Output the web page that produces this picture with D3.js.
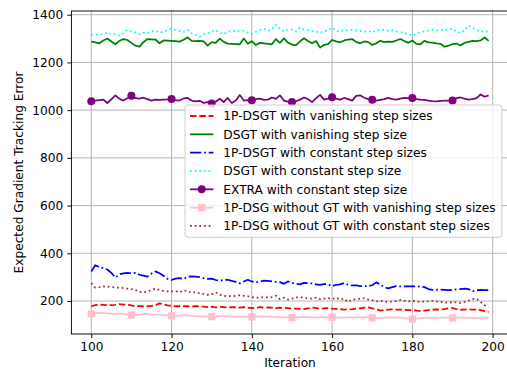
<!DOCTYPE html>
<html><head><meta charset="utf-8">
<script src="https://cdn.jsdelivr.net/npm/d3@7"></script>
<style>body{margin:0;background:#fff}svg{display:block}text{font-family:"DejaVu Sans",sans-serif}</style>
</head><body><div id="chart"></div>
<script>
const iterations = d3.range(100, 200);
const xTicks = [100, 120, 140, 160, 180, 200];
const yTicks = [200, 400, 600, 800, 1000, 1200, 1400];

const dsgt1pVanishing = [178,183,185,184,182,183,184,187,185,184,182,178,179,178,178,180,182,190,186,182,180,178,178,179,178,177,178,178,176,174,176,173,175,174,173,174,173,172,174,172,170,172,174,172,173,172,170,172,171,170,168,168,167,166,169,172,170,168,169,170,168,167,166,164,165,166,168,169,172,173,169,166,160,162,164,165,164,164,163,162,162,160,159,160,162,164,165,164,166,169,170,166,164,164,165,164,164,162,158,153];
const dsgtVanishing = [1287,1284,1280,1292,1300,1288,1276,1290,1298,1294,1282,1270,1266,1285,1298,1297,1296,1280,1292,1291,1290,1289,1287,1295,1305,1290,1289,1290,1288,1270,1285,1282,1300,1286,1279,1278,1277,1276,1300,1278,1289,1273,1282,1280,1278,1276,1298,1282,1301,1283,1275,1272,1288,1301,1290,1280,1290,1262,1274,1277,1294,1288,1284,1292,1296,1298,1286,1280,1288,1285,1273,1280,1291,1285,1287,1286,1292,1298,1290,1282,1292,1278,1276,1290,1284,1283,1280,1278,1266,1270,1277,1279,1271,1282,1286,1290,1289,1292,1305,1290];
const dsgt1pConstant = [324,350,342,338,332,318,298,312,316,318,316,318,310,306,302,315,324,316,306,293,288,294,296,292,302,303,302,300,296,293,294,288,285,288,289,284,280,274,282,289,282,278,282,285,284,282,280,279,272,282,276,272,270,276,275,274,270,268,271,270,262,268,270,275,268,265,266,262,262,262,266,278,270,258,253,258,262,261,261,261,261,262,260,258,250,247,247,248,247,246,247,249,250,252,250,240,245,247,246,245];
const dsgtConstant = [1316,1318,1315,1320,1325,1317,1320,1312,1322,1336,1330,1326,1318,1324,1322,1330,1332,1325,1328,1335,1341,1336,1332,1328,1336,1322,1316,1308,1318,1322,1330,1336,1325,1318,1330,1331,1332,1330,1333,1325,1320,1328,1336,1341,1332,1338,1358,1342,1330,1336,1338,1330,1346,1338,1335,1332,1330,1324,1330,1335,1346,1332,1330,1336,1333,1336,1334,1332,1328,1332,1326,1333,1336,1335,1332,1334,1330,1327,1322,1320,1312,1320,1326,1330,1334,1336,1333,1335,1336,1338,1341,1330,1322,1336,1355,1346,1335,1332,1328,1330];
const extraConstant = [1037,1040,1042,1044,1030,1045,1062,1048,1040,1050,1060,1050,1048,1052,1046,1040,1044,1043,1044,1045,1047,1042,1040,1049,1051,1040,1037,1039,1030,1034,1028,1035,1048,1034,1051,1030,1040,1063,1040,1042,1041,1046,1048,1043,1044,1053,1047,1062,1040,1036,1034,1037,1044,1053,1046,1034,1050,1064,1044,1048,1054,1048,1044,1051,1046,1040,1060,1062,1052,1046,1044,1040,1043,1046,1051,1046,1044,1048,1051,1050,1051,1046,1044,1043,1040,1038,1037,1039,1040,1040,1040,1050,1053,1048,1044,1046,1050,1066,1056,1062];
const dsgNoGtVanishing = [146,148,150,149,148,147,146,148,146,143,141,142,143,145,146,143,144,142,143,140,138,137,139,141,140,138,137,136,136,135,134,135,137,137,136,135,134,136,134,134,133,134,135,135,136,134,133,132,131,131,130,131,132,133,132,131,131,132,131,133,132,131,130,130,131,132,131,131,132,131,129,128,128,129,130,131,130,130,128,126,124,126,128,129,130,129,129,130,131,130,129,130,131,130,129,128,129,129,128,130];
const dsgNoGtConstant = [275,256,258,261,260,258,257,256,254,252,250,246,238,236,240,246,252,246,242,240,240,242,236,244,242,234,238,232,230,226,228,236,226,222,220,220,222,224,222,220,216,214,215,216,215,216,222,208,214,206,210,215,216,214,212,210,214,208,210,212,208,214,206,210,196,205,208,210,212,206,204,198,201,198,196,198,200,204,201,198,201,198,196,198,199,201,198,196,194,192,196,194,192,196,201,208,210,196,182,176];

const seriesLabels = ["1P-DSGT with vanishing step sizes","DSGT with vanishing step size","1P-DSGT with constant step sizes","DSGT with constant step size","EXTRA with constant step size","1P-DSG without GT with vanishing step sizes","1P-DSG without GT with constant step sizes"];

(function () {
const W = 507, H = 370;
const lw = 1.76;
const fs = "12.2px";
const series = [
  {label: seriesLabels[0], values: dsgt1pVanishing, color: "#ff0000", dash: [6.5,2.8]},
  {label: seriesLabels[1], values: dsgtVanishing, color: "#008000", dash: null},
  {label: seriesLabels[2], values: dsgt1pConstant, color: "#0000ff", dash: [11.3,2.8,1.76,2.8]},
  {label: seriesLabels[3], values: dsgtConstant, color: "#00ffff", dash: [1.76,2.9]},
  {label: seriesLabels[4], values: extraConstant, color: "#800080", dash: null, marker: "circle"},
  {label: seriesLabels[5], values: dsgNoGtVanishing, color: "#ffc0cb", dash: null, marker: "square"},
  {label: seriesLabels[6], values: dsgNoGtConstant, color: "#a52a2a", dash: [1.76,2.9]}
];

const x = d3.scaleLinear().domain([95.05, 203.95]).range([71.4, 508.5]);
const y = d3.scaleLinear().domain([61.7, 1415.5]).range([334, 11]);
const pL = 71.4, pR = 508.5, pT = 11, pB = 334;

const svg = d3.select("#chart").append("svg").attr("width", W).attr("height", H);
svg.append("defs").append("clipPath").attr("id","clip")
  .append("rect").attr("x", pL).attr("y", pT).attr("width", pR-pL).attr("height", pB-pT);

// grid
const grid = svg.append("g").attr("stroke", "#b0b0b0").attr("stroke-width", 0.94);
grid.selectAll(".gx").data(xTicks).join("line")
  .attr("x1", d => x(d)).attr("x2", d => x(d)).attr("y1", pT).attr("y2", pB);
grid.selectAll(".gy").data(yTicks).join("line")
  .attr("x1", pL).attr("x2", pR).attr("y1", d => y(d)).attr("y2", d => y(d));

// axes
const xAxis = d3.axisBottom(x).tickValues(xTicks).tickSize(4.1).tickPadding(4.1).tickFormat(d3.format("d"));
const yAxis = d3.axisLeft(y).tickValues(yTicks).tickSize(4.1).tickPadding(4.1).tickFormat(d3.format("d"));
const gx = svg.append("g").attr("transform", `translate(0,${pB})`).call(xAxis);
const gy = svg.append("g").attr("transform", `translate(${pL},0)`).call(yAxis);
[gx, gy].forEach(g => {
  g.select(".domain").remove();
  g.selectAll("line").attr("stroke", "#000").attr("stroke-width", 0.94);
  g.selectAll("text").attr("fill", "#000").style("font-size", fs).style("font-family", "DejaVu Sans");
});

// lines
const plot = svg.append("g").attr("clip-path", "url(#clip)");
const line = d3.line().x((d, i) => x(iterations[i])).y(d => y(d));
series.forEach(s => {
  plot.append("path").datum(s.values).attr("d", line)
    .attr("fill", "none").attr("stroke", s.color).attr("stroke-width", lw)
    .attr("stroke-linejoin", "round")
    .attr("stroke-dasharray", s.dash ? s.dash.join(",") : null);
  if (s.marker) {
    const pts = iterations.map((it, i) => ({it, v: s.values[i]})).filter((d, i) => i % 10 === 0);
    if (s.marker === "circle") {
      plot.selectAll(null).data(pts).join("circle")
        .attr("cx", d => x(d.it)).attr("cy", d => y(d.v)).attr("r", 4).attr("fill", s.color);
    } else {
      plot.selectAll(null).data(pts).join("rect")
        .attr("x", d => x(d.it) - 3.6).attr("y", d => y(d.v) - 3.6)
        .attr("width", 7.2).attr("height", 7.2).attr("fill", s.color);
    }
  }
});

// spines
svg.append("rect").attr("x", pL).attr("y", pT).attr("width", pR-pL).attr("height", pB-pT)
  .attr("stroke", "#000").attr("stroke-width", 0.94).attr("fill", "none");

// axis labels
svg.append("text").attr("x", 290).attr("y", 367).attr("text-anchor", "middle")
  .style("font-size", fs).text("Iteration");
svg.append("text").attr("transform", "translate(23,172.5) rotate(-90)").attr("text-anchor", "middle")
  .style("font-size", fs).text("Expected Gradient Tracking Error");

// legend
const lg = svg.append("g");
const lx = 185, ly = 105, rowH = 18.33, firstRow = 116;
const box = lg.append("rect").attr("x", lx).attr("y", ly).attr("rx", 3).attr("ry", 3)
  .attr("fill", "#fff").attr("fill-opacity", 0.8).attr("stroke", "#cccccc").attr("stroke-width", 0.94);
let maxEnd = 0;
series.forEach((s, i) => {
  const cy = firstRow + i * rowH;
  lg.append("line").attr("x1", 190).attr("x2", 213.4).attr("y1", cy).attr("y2", cy)
    .attr("stroke", s.color).attr("stroke-width", lw)
    .attr("stroke-dasharray", s.dash ? s.dash.join(",") : null);
  if (s.marker === "circle") lg.append("circle").attr("cx", 201.7).attr("cy", cy).attr("r", 4).attr("fill", s.color);
  if (s.marker === "square") lg.append("rect").attr("x", 201.7-3.6).attr("y", cy-3.6).attr("width", 7.2).attr("height", 7.2).attr("fill", s.color);
  const t = lg.append("text").attr("x", 223.3).attr("y", cy).attr("dy", "0.36em")
    .style("font-size", fs).attr("fill", "#000").text(s.label);
  maxEnd = Math.max(maxEnd, 223.3 + t.node().getComputedTextLength());
});
box.attr("width", maxEnd + 6.4 - lx).attr("height", 237.3 - ly);
})();
</script></body></html>
